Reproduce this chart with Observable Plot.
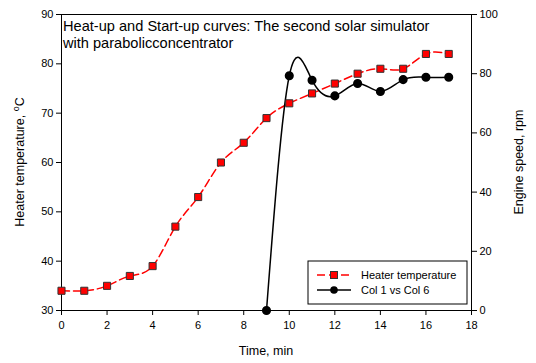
<!DOCTYPE html>
<html><head><meta charset="utf-8">
<script src="https://cdn.jsdelivr.net/npm/d3@7"></script>
<script src="https://cdn.jsdelivr.net/npm/@observablehq/plot@0.6"></script>
<style>body{margin:0;background:#fff;} svg{font-family:"Liberation Sans",Arial,sans-serif;}</style>
</head><body><div id="chart"></div>
<script>
const time = [0,1,2,3,4,5,6,7,8,9,10,11,12,13,14,15,16,17];
const heaterTemp = [34,34,35,37,39,47,53,60,64,69,72,74,76,78,79,79,82,82];
const speedTime = [9,10,11,12,13,14,15,16,17];
const engineSpeed = [0,79.3,77.8,72.5,76.7,74,78,78.8,78.8];
const xTicks = [0,2,4,6,8,10,12,14,16,18];
const leftTicks = [30,40,50,60,70,80,90];
const rightTicks = [0,20,40,60,80,100];

// map right axis (0..100 rpm) onto left scale (30..90 °C)
const toLeft = v => 30 + v * 0.6;
const heater = time.map((t,i) => ({t, v: heaterTemp[i]}));
const speed = speedTime.map((t,i) => ({t, v: toLeft(engineSpeed[i])}));

const W = 536, H = 363;
const plot = Plot.plot({
  width: W, height: H,
  marginLeft: 61, marginRight: 65, marginTop: 14, marginBottom: 53,
  style: {fontFamily: '"Liberation Sans", Arial, sans-serif', fontSize: "11px", color: "#000", background: "#fff"},
  x: {domain: [0,18]},
  y: {domain: [30,90]},
  marks: [
    Plot.frame({stroke: "#000", strokeWidth: 1}),
    Plot.axisX({ticks: xTicks, tickSize: 5, tickPadding: 6, label: null, fontSize: 11}),
    Plot.axisY({ticks: leftTicks, tickSize: 5, tickPadding: 3, label: null, fontSize: 11}),
    Plot.axisY({anchor: "right", ticks: rightTicks.map(toLeft), tickFormat: d => String(Math.round((d-30)/0.6)), tickSize: 5, tickPadding: 3, label: null, fontSize: 11}),
    Plot.line(heater, {x: "t", y: "v", stroke: "#ff0000", strokeWidth: 1.5, strokeDasharray: "8,4", curve: "natural"}),
    Plot.line(speed, {x: "t", y: "v", stroke: "#000", strokeWidth: 1.5, curve: "natural"}),
    Plot.dot(heater, {x: "t", y: "v", symbol: "square", r: 4, fill: "#ff0000", stroke: "#333", strokeWidth: 1}),
    Plot.dot(speed, {x: "t", y: "v", symbol: "circle", r: 3.8, fill: "#000", stroke: "#000"})
  ]
});
document.getElementById("chart").appendChild(plot);

const svg = d3.select(plot);
const font = '"Liberation Sans", Arial, sans-serif';
// title inside plot
const title = svg.append("text").attr("font-family", font).attr("font-size", 14.6).attr("fill", "#000").attr("text-anchor", "start");
title.append("tspan").attr("x", 63).attr("y", 31).text("Heat-up and Start-up curves: The second solar simulator");
title.append("tspan").attr("x", 63).attr("y", 48).text("with parabolicconcentrator");
// axis labels
svg.append("text").attr("font-family", font).attr("font-size", 12.5).attr("text-anchor", "middle")
  .attr("x", 266).attr("y", 355).text("Time, min");
const yl = svg.append("text").attr("font-family", font).attr("font-size", 12.5).attr("text-anchor", "middle")
  .attr("transform", "translate(24,162) rotate(-90)");
yl.append("tspan").text("Heater temperature, ");
yl.append("tspan").attr("font-size", 9).attr("dy", -5).text("o");
yl.append("tspan").attr("dy", 5).text("C");
svg.append("text").attr("font-family", font).attr("font-size", 12.5).attr("text-anchor", "middle")
  .attr("transform", "translate(523,162) rotate(-90)").text("Engine speed, rpm");
// legend
const lg = svg.append("g").attr("text-anchor", "start");
lg.append("rect").attr("x", 308).attr("y", 261).attr("width", 159).attr("height", 43)
  .attr("fill", "#fff").attr("stroke", "#000").attr("stroke-width", 1);
lg.append("line").attr("x1", 317).attr("x2", 351).attr("y1", 275).attr("y2", 275)
  .attr("stroke", "#ff0000").attr("stroke-width", 1.5).attr("stroke-dasharray", "8,4");
lg.append("rect").attr("x", 330.5).attr("y", 271.5).attr("width", 7).attr("height", 7)
  .attr("fill", "#ff0000").attr("stroke", "#333");
lg.append("line").attr("x1", 317).attr("x2", 351).attr("y1", 290).attr("y2", 290)
  .attr("stroke", "#000").attr("stroke-width", 1.5);
lg.append("circle").attr("cx", 334).attr("cy", 290).attr("r", 3.8).attr("fill", "#000");
lg.append("text").attr("font-family", font).attr("font-size", 11).attr("text-anchor", "start").attr("x", 361).attr("y", 279).text("Heater temperature");
lg.append("text").attr("font-family", font).attr("font-size", 11).attr("text-anchor", "start").attr("x", 361).attr("y", 294).text("Col 1 vs Col 6");
</script></body></html>
